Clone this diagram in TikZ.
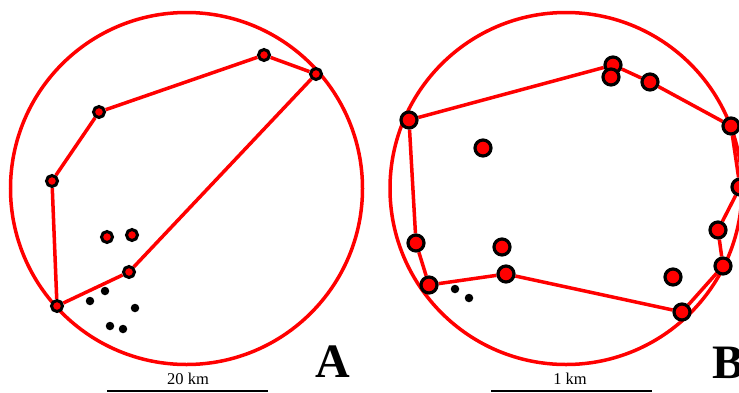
\documentclass[tikz,border=0pt]{standalone}
\usepackage{fontspec}
\setmainfont{Liberation Serif}
\usetikzlibrary{backgrounds}

\begin{document}
\begin{tikzpicture}[x=1pt, y=-1pt,
    siteA/.style={circle, draw=black, fill=red, line width=3pt, inner sep=0pt, minimum size=11pt},
    siteB/.style={circle, draw=black, fill=red, line width=3.2pt, inner sep=0pt, minimum size=16pt},
    blackdot/.style={circle, fill=black, inner sep=0pt, minimum size=8.5pt},
    hullline/.style={red, line width=3.5pt},
    panellabel/.style={font=\fontsize{48}{48}\selectfont\bfseries, inner sep=0pt},
    scalebar/.style={line width=2.2pt},
    scaletext/.style={font=\fontsize{16.5}{17}\selectfont, inner sep=0pt, anchor=base}]
    \useasboundingbox (0,0) rectangle (739,392);
    \clip (0,0) rectangle (739,392);

    % panel A
    \coordinate (cA) at (186.5,188.5);
    \foreach \n/\x/\y in {a1/264/55, a2/316/74, a3/99/112, a4/52/181, a5/57/306,
                          a6/129/272, a7/107/237, a8/132/235}
        \node[siteA] (\n) at (\x,\y) {};
    \foreach \n/\x/\y in {da1/90/301, da2/105/291, da3/135/308, da4/110/326, da5/123/329}
        \node[blackdot] (\n) at (\x,\y) {};
    \begin{scope}[on background layer]
        \draw[hullline] (cA) circle[radius=176pt];
        \draw[hullline] (a5) -- (a4) -- (a3) -- (a1) -- (a2) -- (a6) -- (a5);
    \end{scope}
    \node[panellabel, anchor=base] (labA) at (333,377) {A};
    \coordinate (barA1) at (107,391);
    \coordinate (barA2) at (268,391);
    \draw[scalebar] (barA1) -- (barA2);
    \node[scaletext] (kmA) at (188,384) {20 km};

    % panel B
    \coordinate (cB) at (566,188.5);
    \foreach \n/\x/\y in {b1/409/120, b2/613/65, b3/611/77, b4/650/82, b5/731/126,
                          b6/740/187, b7/718/230, b8/723/266, b9/682/312, b10/506/274,
                          b11/429/285, b12/416/243, b13/483/148, b14/502/247, b15/673/277}
        \node[siteB] (\n) at (\x,\y) {};
    \foreach \n/\x/\y in {db1/455/289, db2/469/298}
        \node[blackdot] (\n) at (\x,\y) {};
    \begin{scope}[on background layer]
        \draw[hullline] (cB) circle[radius=176pt];
        \draw[hullline] (b11) -- (b12) -- (b1) -- (b2) -- (b4) -- (b5) -- (b6)
            -- (b7) -- (b8) -- (b9) -- (b10) -- (b11);
    \end{scope}
    \node[panellabel, anchor=base west] (labB) at (712,378) {B};
    \coordinate (barB1) at (491,391);
    \coordinate (barB2) at (652,391);
    \draw[scalebar] (barB1) -- (barB2);
    \node[scaletext] (kmB) at (570,384) {1 km};
\end{tikzpicture}
\end{document}
